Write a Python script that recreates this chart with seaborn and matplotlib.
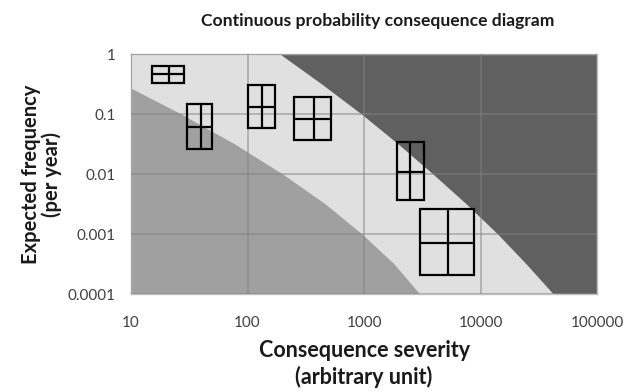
import numpy as np
import pandas as pd
import seaborn as sns
import matplotlib.pyplot as plt
from matplotlib.patches import Rectangle

# boundary of the lower-left (acceptable) zone
med_freq = [0.27, 0.1, 0.032, 0.01, 0.0032, 0.001, 0.00032, 0.0001]
med_sev = [10, 27, 77, 200, 462, 960, 1800, 3000]

# boundary of the upper-right (unacceptable) zone
dark_freq = [1, 0.32, 0.1, 0.032, 0.01, 0.0032, 0.001, 0.00032, 0.0001]
dark_sev = [190, 430, 950, 1950, 3900, 7500, 14000, 24500, 42000]

# uncertainty boxes: severity range and frequency range with central estimate
sev_low = [15, 30, 100, 250, 1900, 3000]
sev_mid = [21, 40, 133, 370, 2500, 5250]
sev_high = [28.5, 50, 173, 525, 3240, 8700]
freq_low = [0.33, 0.026, 0.059, 0.037, 0.0037, 0.00021]
freq_mid = [0.46, 0.06, 0.13, 0.083, 0.011, 0.0007]
freq_high = [0.63, 0.15, 0.3, 0.19, 0.034, 0.0026]

boxes = pd.DataFrame({'sev_low': sev_low, 'sev_mid': sev_mid, 'sev_high': sev_high,
                      'freq_low': freq_low, 'freq_mid': freq_mid, 'freq_high': freq_high})

sns.set_style("white")
plt.rcParams['font.family'] = ['Lato', 'DejaVu Sans']

fig = plt.figure(figsize=(6.24, 3.92), dpi=100)
ax = fig.add_axes([0.21, 0.25, 0.747, 0.612])
ax.set_xscale('log')
ax.set_yscale('log')
ax.set_xlim(10, 100000)
ax.set_ylim(0.0001, 1)
ax.set_facecolor('#e0e0e0')

# zones
ax.fill_betweenx(med_freq, 10, med_sev, color='#a0a0a0', lw=0, zorder=1)
ax.fill_betweenx(dark_freq, dark_sev, 100000, color='#606060', lw=0, zorder=1)

ax.grid(True, which='major', color='#818181', alpha=0.57, lw=1.2, zorder=2)
ax.set_axisbelow(False)

# boxes with crosses
for _, b in boxes.iterrows():
    ax.add_patch(Rectangle((b.sev_low, b.freq_low), b.sev_high - b.sev_low,
                           b.freq_high - b.freq_low, fill=False, ec='black', lw=1.6, zorder=3))
ax.vlines(boxes.sev_mid, boxes.freq_low, boxes.freq_high, color='black', lw=1.6, zorder=3)
ax.hlines(boxes.freq_mid, boxes.sev_low, boxes.sev_high, color='black', lw=1.6, zorder=3)

ax.set_xticks([10, 100, 1000, 10000, 100000])
ax.set_xticklabels(['10', '100', '1000', '10000', '100000'])
ax.set_yticks([0.0001, 0.001, 0.01, 0.1, 1])
ax.set_yticklabels(['0.0001', '0.001', '0.01', '0.1', '1'])
ax.tick_params(which='major', direction='out', length=4, width=1, color='#a0a0a0',
               labelsize=11, labelcolor='#404040')
ax.tick_params(which='minor', direction='out', length=3, width=0.8, color='#a0a0a0')
ax.tick_params(axis='x', pad=12)
ax.tick_params(axis='y', pad=7)
ax.minorticks_on()
for s in ax.spines.values():
    s.set_color('#c0c0c0')
    s.set_linewidth(1)

ax.set_xlabel('Consequence severity\n(arbitrary unit)', fontsize=15.5, fontweight='bold',
              labelpad=7, linespacing=1.3, color='#1a1a1a')
ax.set_ylabel('Expected frequency\n(per year)', fontsize=14.5, fontweight='bold',
              labelpad=4, linespacing=1.05, color='#1a1a1a')
ax.set_title('Continuous probability consequence diagram', fontsize=12.6, fontweight='bold',
             pad=20, x=0.53, color='#1a1a1a')

fig.savefig('out.png', dpi=100)
